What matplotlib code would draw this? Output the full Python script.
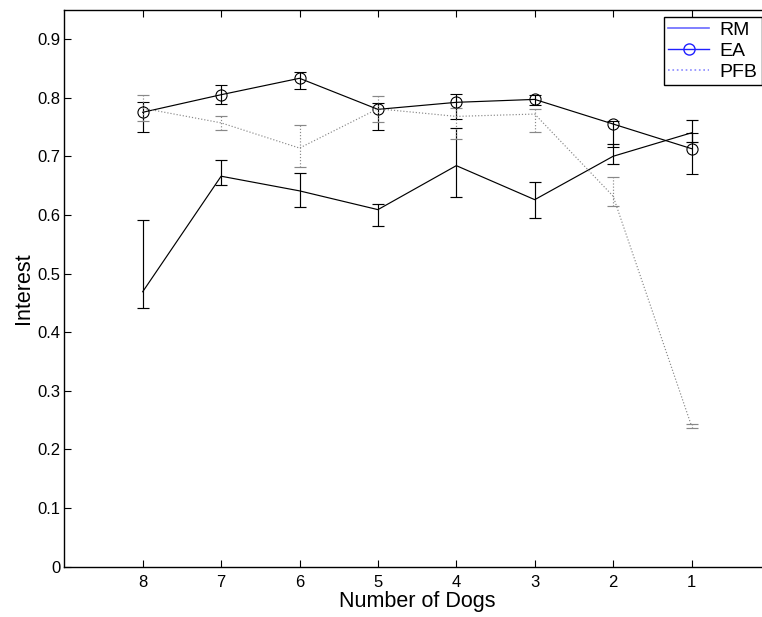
import numpy as np
import matplotlib
matplotlib.use("Agg")
import matplotlib.pyplot as plt
from matplotlib.lines import Line2D

plt.rcParams["font.family"] = ["Liberation Sans", "DejaVu Sans"]

dogs = [8, 7, 6, 5, 4, 3, 2, 1]

# mean interest per method, with lower / upper ends of the error bars
rm_mean = [0.469, 0.666, 0.641, 0.609, 0.684, 0.626, 0.700, 0.740]
rm_low = [0.441, 0.651, 0.614, 0.581, 0.631, 0.595, 0.687, 0.724]
rm_high = [0.591, 0.693, 0.672, 0.619, 0.749, 0.656, 0.721, 0.762]

ea_mean = [0.775, 0.805, 0.833, 0.780, 0.792, 0.797, 0.755, 0.713]
ea_low = [0.742, 0.789, 0.815, 0.744, 0.763, 0.788, 0.716, 0.670]
ea_high = [0.792, 0.821, 0.843, 0.791, 0.807, 0.805, 0.760, 0.740]

pfb_mean = [0.782, 0.757, 0.714, 0.781, 0.768, 0.772, 0.632, 0.240]
pfb_low = [0.761, 0.745, 0.681, 0.759, 0.729, 0.741, 0.615, 0.236]
pfb_high = [0.804, 0.768, 0.753, 0.803, 0.782, 0.780, 0.664, 0.244]


def err(mean, low, high):
    mean = np.array(mean)
    return [mean - np.array(low), np.array(high) - mean]


fig = plt.figure(figsize=(7.62, 6.17), dpi=100)
ax = fig.add_axes([0.0844, 0.0815, 0.926, 0.9028])

lw = 0.85
ax.errorbar(dogs, rm_mean, yerr=err(rm_mean, rm_low, rm_high),
            color="black", lw=lw, elinewidth=lw, capsize=4, capthick=lw)
ax.errorbar(dogs, ea_mean, yerr=err(ea_mean, ea_low, ea_high),
            color="black", lw=lw, elinewidth=lw, capsize=4, capthick=lw,
            marker="o", ms=8, mfc="none", mec="black", mew=0.8)
pfb = ax.errorbar(dogs, pfb_mean, yerr=err(pfb_mean, pfb_low, pfb_high),
                  color="#888888", lw=lw, ls=":", elinewidth=lw, capsize=4,
                  capthick=lw)
# dotted error bars for PFB
pfb[2][0].set_linestyle(":")

ax.set_xlim(9, 0)
ax.set_ylim(0, 0.95)
ax.set_xticks(dogs)
ax.set_yticks(np.arange(0, 0.91, 0.1))
ax.set_yticklabels(["0"] + [f"{v:.1f}" for v in np.arange(0.1, 0.91, 0.1)])
ax.tick_params(direction="in", length=5, width=0.8, top=True, right=True,
               labelsize=12)
ax.tick_params(axis="y", pad=3)
ax.tick_params(axis="x", pad=6)
for s in ax.spines.values():
    s.set_linewidth(1.0)

ax.set_xlabel("Number of Dogs", fontsize=15.5, labelpad=1)
ax.set_ylabel("Interest", fontsize=15.5, labelpad=2)

handles = [
    Line2D([], [], color="#6a6aff", lw=1.2),
    Line2D([], [], color="#2020ff", lw=1.0, marker="o", ms=8, mfc="none"),
    Line2D([], [], color="#8a8aff", lw=1.2, ls=":"),
]
leg = fig.legend(handles, ["RM", "EA", "PFB"], loc="upper right",
                 bbox_to_anchor=(0.9995, 0.972), fontsize=14, frameon=True,
                 fancybox=False, edgecolor="black", framealpha=1,
                 borderpad=0.2, labelspacing=0.18, handlelength=2.1,
                 handletextpad=0.55, borderaxespad=0)
leg.get_frame().set_linewidth(1.0)

fig.savefig("out.png", dpi=100)
